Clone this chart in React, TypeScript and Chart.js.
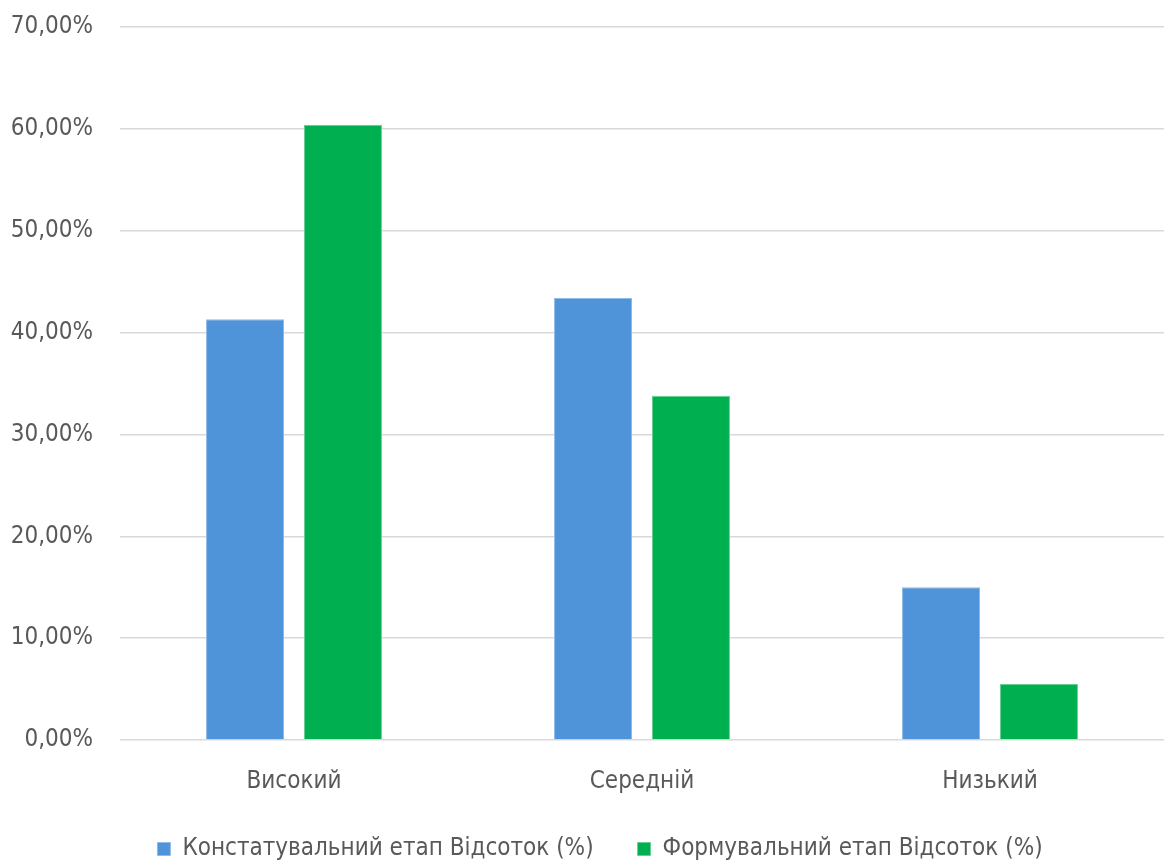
import React, { useEffect, useRef } from "react";
import { Chart, registerables } from "chart.js";

Chart.register(...registerables);

const categories = ["Високий", "Середній", "Низький"];
const seriesNames = ["Констатувальний етап Відсоток (%)", "Формувальний етап Відсоток (%)"];
const constatValues = [41.3, 43.4, 15.0];
const formValues = [60.4, 33.8, 5.5];
const yTicks = [0, 10, 20, 30, 40, 50, 60, 70];

const FONT = "'DejaVu Sans Condensed', 'Liberation Sans Narrow', sans-serif";

const legendShift = {
  id: "legendShift",
  afterLayout(chart: any) {
    if (chart.legend) {
      chart.legend.left = 36;
    }
  },
};

export default function App() {
  const ref = useRef<HTMLCanvasElement | null>(null);

  useEffect(() => {
    document.body.style.margin = "0";
    const canvas = ref.current;
    if (!canvas) return;
    const chart = new Chart(canvas, {
      type: "bar",
      plugins: [legendShift],
      data: {
        labels: categories,
        datasets: [
          {
            label: seriesNames[0],
            data: constatValues,
            backgroundColor: "#4F94D9",
            borderColor: "#8EBBE8",
            borderWidth: 1,
            categoryPercentage: 0.563,
            barPercentage: 0.796,
          },
          {
            label: seriesNames[1],
            data: formValues,
            backgroundColor: "#00AF4F",
            borderColor: "#66CF95",
            borderWidth: 1,
            categoryPercentage: 0.563,
            barPercentage: 0.796,
          },
        ],
      },
      options: {
        responsive: false,
        animation: false,
        devicePixelRatio: 1,
        layout: { padding: { left: 0, right: 0, top: 27, bottom: -9 } },
        plugins: {
          tooltip: { enabled: false },
          legend: {
            position: "bottom",
            labels: {
              boxWidth: 13,
              boxHeight: 13,
              padding: 44,
              color: "#595959",
              font: { family: FONT, size: 24 },
            },
          },
        },
        scales: {
          x: {
            grid: { display: false, drawTicks: false },
            border: { display: false },
            ticks: { color: "#595959", font: { family: FONT, size: 24 }, padding: 27 },
            afterFit: (axis: any) => {
              axis.height = 53;
            },
          },
          y: {
            min: 0,
            max: 70,
            afterBuildTicks: (axis: any) => {
              axis.ticks = yTicks.map((v) => ({ value: v }));
            },
            afterFit: (axis: any) => {
              axis.width = 120;
              axis.paddingTop = 0;
              axis.paddingBottom = 0;
            },
            grid: { color: "#D9D9D9", lineWidth: 1.5, drawTicks: false },
            border: { display: false },
            ticks: {
              color: "#595959",
              font: { family: FONT, size: 24 },
              padding: 27,
              callback: (v: any) => Number(v).toFixed(2).replace(".", ",") + "%",
            },
          },
        },
      },
    });
    return () => chart.destroy();
  }, []);

  return <canvas ref={ref} width={1164} height={862} style={{ display: "block" }} />;
}
